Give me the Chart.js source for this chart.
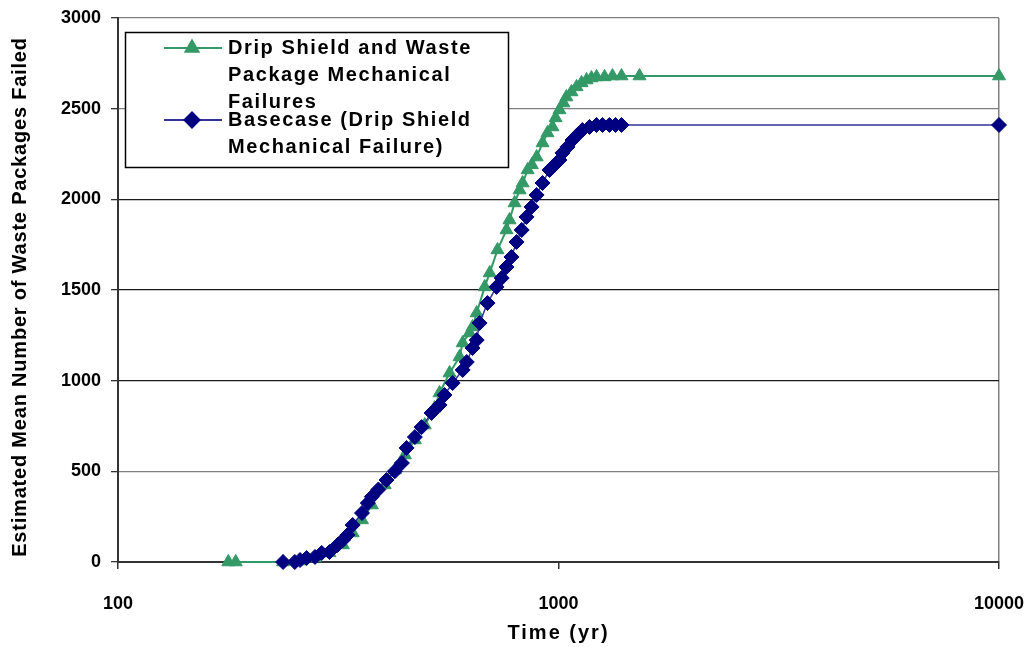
<!DOCTYPE html>
<html>
<head>
<meta charset="utf-8">
<script src="https://cdn.jsdelivr.net/npm/chart.js@4/dist/chart.umd.min.js"></script>
<style>
    body { margin: 0; background: #fff; }
    #wrap { width: 1029px; height: 647px; }
</style>
</head>
<body>
<div id="wrap"><canvas id="failChart" width="1029" height="647"></canvas></div>
<script>
// === Data: time (yr) and estimated mean number of failed packages ===
const baseTimes = [237, 252, 259, 268, 280, 290, 302, 315, 324, 332, 341, 358, 369, 377, 390,
    407, 425, 441, 452, 472, 489, 515, 537, 551, 575, 606, 619, 638, 652, 662, 690, 723, 743,
    762, 782, 803, 825, 846, 869, 892, 920, 954, 980, 1005, 1021, 1048, 1076, 1104, 1133, 1176,
    1220, 1259, 1305, 1347, 1390, 10000];
const baseFailed = [0, 0, 11, 22, 28, 50, 55, 94, 121, 149, 204, 270, 325, 360, 400,
    452, 500, 546, 629, 689, 744, 822, 866, 921, 987, 1059, 1103, 1180, 1224, 1318, 1428, 1517, 1566,
    1627, 1682, 1765, 1831, 1903, 1958, 2024, 2090, 2162, 2190, 2217, 2256, 2289, 2327, 2355, 2382, 2399,
    2410, 2410, 2410, 2410, 2410, 2410];

const mechTimes = [178, 185, 237, 259, 280, 302, 324, 341, 358, 377, 403, 425, 448, 472, 497,
    523, 537, 566, 596, 606, 628, 638, 652, 680, 698, 727, 762, 774, 795, 816, 829, 851, 870,
    892, 920, 944, 969, 985, 1005, 1026, 1042, 1070, 1099, 1128, 1158, 1188, 1220, 1272, 1326,
    1390, 1527, 10000];
const mechFailed = [0, 0, 0, 5, 22, 50, 94, 160, 232, 314, 425, 507, 590, 673, 755,
    849, 932, 1042, 1131, 1208, 1263, 1296, 1373, 1517, 1594, 1721, 1831, 1886, 1980, 2051, 2090, 2162, 2190,
    2233, 2311, 2366, 2399, 2449, 2493, 2531, 2564, 2592, 2620, 2642, 2658, 2669, 2675, 2675, 2680,
    2680, 2680, 2680];

const xTickValues = [100, 1000, 10000];

const mechLabel = ['Drip Shield and Waste', 'Package Mechanical', 'Failures'];
const baseLabel = ['Basecase (Drip Shield', 'Mechanical Failure)'];
const xTitle = 'Time (yr)';
const yTitle = 'Estimated Mean Number of Waste Packages Failed';

const GREEN = '#339966';
const NAVY = '#000080';
const FONT = '"Liberation Sans", Arial, sans-serif';

const toXY = (xs, ys) => xs.map((x, i) => ({ x: x, y: ys[i] }));

// === Axis titles (spaced lettering) and the boxed legend inside the plot ===
const chartText = {
    id: 'chartText',
    afterDraw(chart) {
        const ctx = chart.ctx;
        const area = chart.chartArea;
        ctx.save();
        ctx.fillStyle = '#000';
        ctx.textAlign = 'center';
        ctx.textBaseline = 'middle';
        ctx.font = 'bold 20px ' + FONT;
        ctx.letterSpacing = '2px';
        ctx.fillText(xTitle, (area.left + area.right) / 2, 633);
        ctx.letterSpacing = '0.8px';
        ctx.translate(20, 297);
        ctx.rotate(-Math.PI / 2);
        ctx.fillText(yTitle, 0, 0);
        ctx.restore();

        ctx.save();
        ctx.fillStyle = '#fff';
        ctx.strokeStyle = '#000';
        ctx.lineWidth = 1.5;
        ctx.fillRect(125, 32, 383, 135);
        ctx.strokeRect(125.5, 32.5, 383, 135);

        const entries = [
            { lines: mechLabel, y: 48, color: GREEN, fill: GREEN, style: 'triangle' },
            { lines: baseLabel, y: 120, color: '#333399', fill: NAVY, style: 'rectRot' }
        ];
        entries.forEach(e => {
            ctx.strokeStyle = e.color;
            ctx.lineWidth = 2;
            ctx.beginPath();
            ctx.moveTo(164, e.y);
            ctx.lineTo(222, e.y);
            ctx.stroke();
            ctx.fillStyle = e.fill;
            ctx.strokeStyle = e.fill;
            Chart.helpers.drawPoint(ctx, { pointStyle: e.style, radius: 7.5, borderWidth: 1 }, 192, e.y);

            ctx.fillStyle = '#000';
            ctx.font = 'bold 20px ' + FONT;
            ctx.textBaseline = 'middle';
            ctx.textAlign = 'left';
            ctx.letterSpacing = '1.6px';
            e.lines.forEach((t, i) => ctx.fillText(t, 228, e.y + i * 27));
        });
        ctx.restore();
    }
};

const greyLine = '#808080';

new Chart(document.getElementById('failChart').getContext('2d'), {
    type: 'line',
    data: {
        datasets: [
            {
                label: baseLabel.join(' '),
                data: toXY(baseTimes, baseFailed),
                borderColor: '#333399',
                borderWidth: 1.5,
                pointStyle: 'rectRot',
                pointRadius: 7.5,
                pointBackgroundColor: NAVY,
                pointBorderColor: NAVY,
                pointBorderWidth: 1,
                tension: 0,
                clip: false,
                order: 1
            },
            {
                label: mechLabel.join(' '),
                data: toXY(mechTimes, mechFailed),
                borderColor: GREEN,
                borderWidth: 2,
                pointStyle: 'triangle',
                pointRadius: 7.5,
                pointBackgroundColor: GREEN,
                pointBorderColor: GREEN,
                pointBorderWidth: 1,
                tension: 0,
                clip: false,
                order: 2
            }
        ]
    },
    options: {
        responsive: false,
        animation: false,
        layout: { padding: { top: 18, right: 30, left: 0, bottom: 0 } },
        plugins: {
            legend: { display: false },
            tooltip: { enabled: false }
        },
        scales: {
            x: {
                type: 'logarithmic',
                min: 100,
                max: 10000,
                afterBuildTicks: axis => { axis.ticks = xTickValues.map(v => ({ value: v })); },
                afterFit: scale => {
                    scale.height = 85;
                    scale.paddingLeft = 0;
                    scale.paddingRight = 0;
                },
                border: { color: '#333', width: 2 },
                grid: {
                    color: c => (c.tick && c.tick.value === 10000) ? greyLine : 'rgba(0,0,0,0)',
                    tickColor: '#333',
                    tickLength: 7,
                    lineWidth: 1.5
                },
                ticks: {
                    color: '#000',
                    padding: 24,
                    maxRotation: 0,
                    autoSkip: false,
                    font: { family: FONT, size: 18, weight: 'bold' },
                    callback: v => String(v)
                }
            },
            y: {
                min: 0,
                max: 3000,
                afterFit: scale => {
                    scale.width = 118;
                    scale.paddingTop = 0;
                    scale.paddingBottom = 0;
                },
                border: { color: '#333', width: 2 },
                grid: {
                    color: c => {
                        const v = c.tick ? c.tick.value : 0;
                        return (v === 500 || v >= 2500) ? greyLine : '#1a1a1a';
                    },
                    tickColor: '#333',
                    tickLength: 7,
                    lineWidth: 1.3
                },
                ticks: {
                    stepSize: 500,
                    color: '#000',
                    padding: 10,
                    font: { family: FONT, size: 18, weight: 'bold' },
                    callback: v => String(v)
                }
            }
        }
    },
    plugins: [chartText]
});
</script>
</body>
</html>
